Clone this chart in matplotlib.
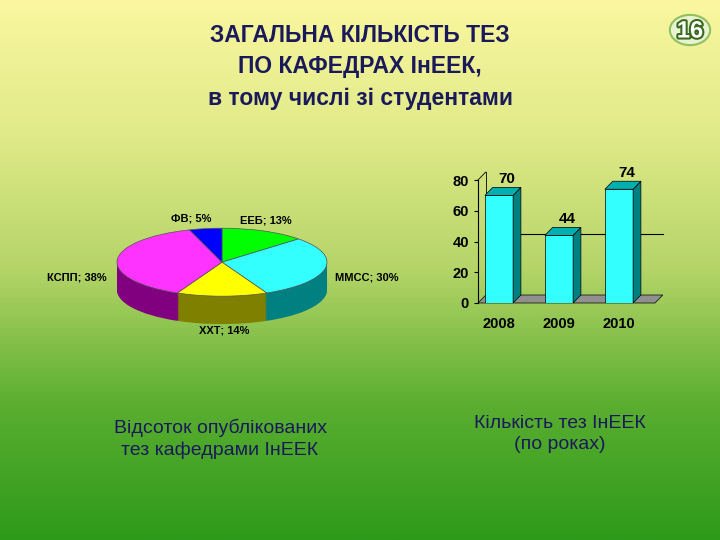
import numpy as np
import matplotlib
matplotlib.use("Agg")
import matplotlib.pyplot as plt
from matplotlib.patches import Polygon, Circle
from matplotlib.colors import LinearSegmentedColormap
import matplotlib.patheffects as pe

plt.rcParams['font.family'] = ['Liberation Sans', 'DejaVu Sans']

pie_labels = ["ЕЕБ; 13%", "ММСС; 30%", "ХХТ; 14%", "КСПП; 38%", "ФВ; 5%"]
pie_values = [13, 30, 14, 38, 5]
pie_top = ['#00ff00', '#33ffff', '#ffff00', '#ff33ff', '#0000ff']
pie_side = ['#009900', '#008080', '#808000', '#800080', '#000080']

years = ['2008', '2009', '2010']
counts = [70, 44, 74]

W, H = 720, 540
fig = plt.figure(figsize=(7.2, 5.4), dpi=100)

def px(x0, y0, x1, y1):
    return [x0 / W, 1 - y1 / H, (x1 - x0) / W, (y1 - y0) / H]

# background gradient
bg = fig.add_axes([0, 0, 1, 1])
grad = np.linspace(0, 1, 256)[:, None]
cmap = LinearSegmentedColormap.from_list('bg', ['#faf7a0', '#e0ea88', '#b4d468', '#5aae30', '#2e9a1a'])
bg.imshow(grad, aspect='auto', cmap=cmap, extent=[0, 1, 0, 1])
bg.axis('off')

# badge
bg.add_patch(Circle((690 / W, 1 - 30 / H), 0.028, transform=fig.transFigure,
                    facecolor='#e8f4d0', edgecolor='#90c060', lw=1.5))
fig.text(690 / W, 1 - 31 / H, "16", ha='center', va='center', fontsize=17, fontweight='bold',
         color='white', path_effects=[pe.withStroke(linewidth=3, foreground='#3a6a20')])

title_col = '#1a1a5a'
fig.text(360 / W, 1 - 67 / H, "ЗАГАЛЬНА КІЛЬКІСТЬ ТЕЗ\nПО КАФЕДРАХ ІнЕЕК,\nв тому числі зі студентами",
         ha='center', va='center', fontsize=16.5, fontweight='bold', color=title_col, linespacing=1.45)
fig.text(220 / W, 1 - 439 / H, "Відсоток опублікованих\nтез кафедрами ІнЕЕК",
         ha='center', va='center', fontsize=14, color=title_col, linespacing=1.3)
fig.text(560 / W, 1 - 434 / H, "Кількість тез ІнЕЕК\n(по роках)",
         ha='center', va='center', fontsize=14, color=title_col, linespacing=1.3)

# 3D pie
ax = fig.add_axes(px(96, 218, 348, 337))
depth = 0.82
for d in np.linspace(depth, 0.02, 30):
    ax.pie(pie_values, colors=pie_side, startangle=90, counterclock=False, center=(0, -d),
           radius=1, frame=True, wedgeprops=dict(lw=0.3, edgecolor='none'))
ax.pie(pie_values, colors=pie_top, startangle=90, counterclock=False, center=(0, 0),
       radius=1, frame=True, wedgeprops=dict(lw=0.5, edgecolor='#555555'))
ax.set_xlim(-1.2, 1.2)
ax.set_ylim(-2.2, 1.3)
ax.set_aspect('auto')
ax.axis('off')
lbl_pos = [(0.17, 1.22, 'left'), (1.08, -0.45, 'left'), (0.02, -2.0, 'center'),
           (-1.1, -0.45, 'right'), (-0.1, 1.3, 'right')]
for lab, (x, y, ha) in zip(pie_labels, lbl_pos):
    ax.text(x, y, lab, ha=ha, va='center', fontsize=8, fontweight='bold', clip_on=False)

# 3D bars
bx = fig.add_axes(px(478, 180, 655, 303))
bx.set_xlim(-0.35, 2.6)
bx.set_ylim(0, 80)
bx.patch.set_alpha(0)
dx, dy = 0.13, 5.2
w = 0.47
xs = np.arange(len(years))
bx.add_patch(Polygon([(-0.35, 0), (-0.35 + dx, dy), (2.6 + dx, dy), (2.6, 0)], closed=True,
                     facecolor='#909090', edgecolor='black', lw=0.5, clip_on=False))
bx.plot([-0.35 + dx, 2.6 + dx], [40 + dy, 40 + dy], color='black', lw=0.8, clip_on=False)
bx.plot([-0.35 + dx, -0.35 + dx], [dy, 80 + dy], color='black', lw=0.6, clip_on=False)
bx.plot([-0.35, -0.35 + dx], [80, 80 + dy], color='black', lw=0.6, clip_on=False)
bars = bx.bar(xs, counts, width=w, color='#33ffff', edgecolor='black', lw=0.5, zorder=3)
for b, v in zip(bars, counts):
    x0, x1 = b.get_x(), b.get_x() + w
    bx.add_patch(Polygon([(x1, 0), (x1 + dx, dy), (x1 + dx, v + dy), (x1, v)], closed=True,
                         facecolor='#008080', edgecolor='black', lw=0.5, zorder=3, clip_on=False))
    bx.add_patch(Polygon([(x0, v), (x0 + dx, v + dy), (x1 + dx, v + dy), (x1, v)], closed=True,
                         facecolor='#00b0b0', edgecolor='black', lw=0.5, zorder=3, clip_on=False))
    bx.text(x0 + w / 2 + dx, v + dy + 1, str(v), ha='center', va='bottom', fontsize=11, fontweight='bold')
for s in ['top', 'right', 'bottom']:
    bx.spines[s].set_visible(False)
bx.set_yticks([0, 20, 40, 60, 80])
bx.set_xticks(xs)
bx.set_xticklabels(years)
bx.tick_params(labelsize=10.5, length=3)
for t in bx.get_xticklabels() + bx.get_yticklabels():
    t.set_fontweight('bold')
bx.tick_params(axis='x', length=0, pad=10)

fig.savefig('out.png', dpi=100)
